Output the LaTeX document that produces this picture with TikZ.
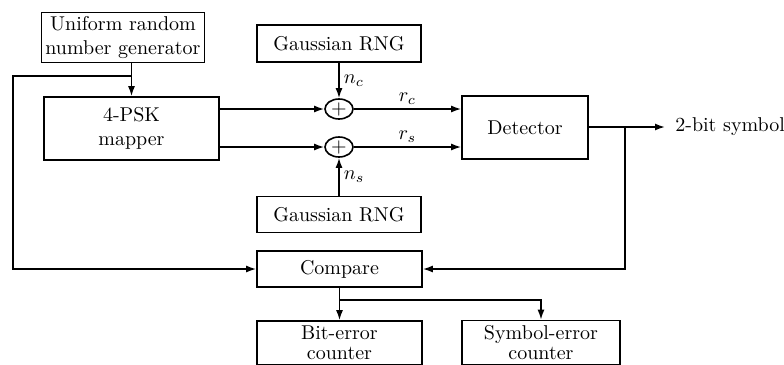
\documentclass[tikz,border=0pt]{standalone}
\usepackage{tikz}
\usetikzlibrary{positioning,shapes.geometric,arrows.meta}
\tikzset{
    plain-box/.style = {draw, thick, rectangle, align=center, inner sep=2pt},
    sum-node/.style = {draw, thick, ellipse, minimum width=14pt, minimum height=10pt, inner sep=0pt},
    sig-line/.style = {thick, -{Latex[length=5pt,width=3.5pt]}},
    sig-label/.style = {inner sep=2pt},
}

\begin{document}
\begin{tikzpicture}[x=0.5pt, y=-0.5pt]
\useasboundingbox (0,0) rectangle (784,365);
\clip (0,0) rectangle (784,365);
\node[plain-box, minimum width=80pt, minimum height=24.5pt] (urng) at (123,37.5) {Uniform random\\number generator};
\node[plain-box, minimum width=87.5pt, minimum height=31.5pt] (mapper) at (131.5,128.5) {4-PSK\\mapper};
\node[plain-box, minimum width=82pt, minimum height=18.5pt] (grngc) at (339,43.5) {Gaussian RNG};
\node[sum-node] (addc) at (339,109) {$+$};
\node[sum-node] (adds) at (339,147) {$+$};
\node[plain-box, minimum width=82pt, minimum height=18pt] (grngs) at (339,214.5) {Gaussian RNG};
\node[plain-box, minimum width=63pt, minimum height=31.5pt] (det) at (525,127.5) {Detector};
\node[anchor=west, inner sep=5pt] (out) at (665,127) {2-bit symbol};
\node[plain-box, minimum width=82.5pt, minimum height=18pt] (cmp) at (339.5,269) {Compare};
\node[plain-box, minimum width=82.5pt, minimum height=22pt] (bec) at (339.5,343) {Bit-error\\[-2pt]counter};
\node[plain-box, minimum width=79pt, minimum height=22pt] (sec) at (541,342.5) {Symbol-error\\[-2pt]counter};

\coordinate (tap) at (131.5,76);
\coordinate (lc) at (13,76);
\coordinate (fb) at (625,127);
\coordinate (br) at (339.5,300);

\draw[sig-line] (mapper.north |- urng.south) -- (mapper.north);
\draw[sig-line] (tap) -- (lc) |- (cmp.west);
\draw[sig-line] (mapper.east |- addc) -- (addc);
\draw[sig-line] (mapper.east |- adds) -- (adds);
\draw[sig-line] (grngc) -- node[right, sig-label] (nc) {$n_c$} (addc);
\draw[sig-line] (grngs) -- node[right, sig-label] (ns) {$n_s$} (adds);
\draw[sig-line] (addc) -- node[above, sig-label] (rc) {$r_c$} (det.west |- addc);
\draw[sig-line] (adds) -- node[above, sig-label] (rs) {$r_s$} (det.west |- adds);
\draw[sig-line] (det.east |- fb) -- (out.west);
\draw[sig-line] (fb) |- (cmp.east);
\draw[sig-line] (cmp) -- (bec);
\draw[sig-line] (br) -| (sec.north);
\end{tikzpicture}
\end{document}
